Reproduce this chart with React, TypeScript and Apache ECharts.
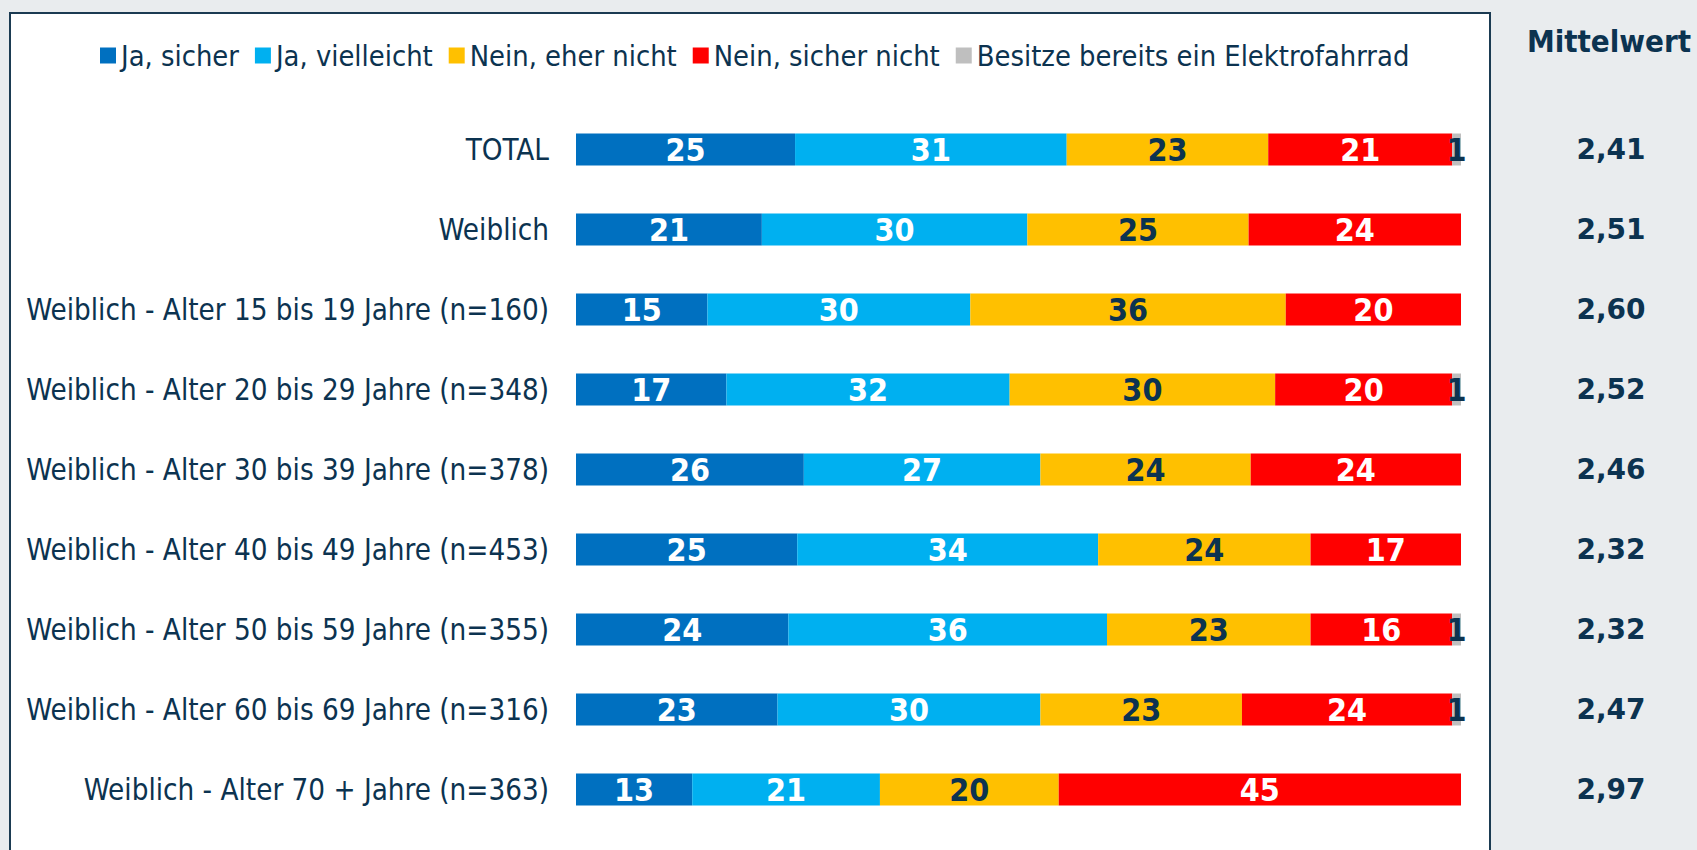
import React, { useEffect, useRef } from "react";
import * as echarts from "echarts";

const categories = [
  "TOTAL",
  "Weiblich",
  "Weiblich - Alter 15 bis 19 Jahre (n=160)",
  "Weiblich - Alter 20 bis 29 Jahre (n=348)",
  "Weiblich - Alter 30 bis 39 Jahre (n=378)",
  "Weiblich - Alter 40 bis 49 Jahre (n=453)",
  "Weiblich - Alter 50 bis 59 Jahre (n=355)",
  "Weiblich - Alter 60 bis 69 Jahre (n=316)",
  "Weiblich - Alter 70 + Jahre (n=363)",
];

const seriesNames = [
  "Ja, sicher",
  "Ja, vielleicht",
  "Nein, eher nicht",
  "Nein, sicher nicht",
  "Besitze bereits ein Elektrofahrrad",
];

const jaSicher = [25, 21, 15, 17, 26, 25, 24, 23, 13];
const jaVielleicht = [31, 30, 30, 32, 27, 34, 36, 30, 21];
const neinEherNicht = [23, 25, 36, 30, 24, 24, 23, 23, 20];
const neinSicherNicht = [21, 24, 20, 20, 24, 17, 16, 24, 45];
const besitzeBereits = [1, 0, 0, 1, 0, 0, 1, 1, 0];

const mittelwert = ["2,41", "2,51", "2,60", "2,52", "2,46", "2,32", "2,32", "2,47", "2,97"];

const colors = ["#0070C0", "#00B0F0", "#FFC000", "#FF0000", "#BFBFBF"];
const labelColors = ["#FFFFFF", "#FFFFFF", "#0C3350", "#FFFFFF", "#0C3350"];

const NAVY = "#0C3350";
const FONT = "'DejaVu Sans Condensed', 'Liberation Sans', sans-serif";

export default function App() {
  const ref = useRef<HTMLDivElement>(null);

  useEffect(() => {
    document.body.style.margin = "0";
    const chart = echarts.init(ref.current!, null, { renderer: "svg" });
    const raw = [jaSicher, jaVielleicht, neinEherNicht, neinSicherNicht, besitzeBereits];
    const sums = categories.map((_, i) => raw.reduce((s, arr) => s + arr[i], 0));

    const series = raw.map((arr, si) => ({
      name: seriesNames[si],
      type: "bar",
      stack: "total",
      barWidth: 32,
      itemStyle: { color: colors[si] },
      data: arr.map((v, i) => ({
        value: v === 0 ? null : (v / sums[i]) * 100,
        raw: v,
      })),
      label: {
        show: true,
        position: "inside",
        color: labelColors[si],
        fontFamily: FONT,
        fontWeight: "bold",
        fontSize: 32,
        formatter: (p: any) => String(p.data.raw),
      },
      emphasis: { disabled: true },
    }));

    chart.setOption({
      animation: false,
      backgroundColor: "#E9ECEE",
      textStyle: { fontFamily: FONT },
      graphic: [
        {
          type: "rect",
          z: -1,
          shape: { x: 10, y: 13, width: 1480, height: 860 },
          style: { fill: "#FFFFFF", stroke: "#1B3B52", lineWidth: 2 },
        },
        {
          type: "text",
          x: 1609,
          y: 41,
          style: {
            text: "Mittelwert",
            fontFamily: FONT,
            fontWeight: "bold",
            fontSize: 31,
            fill: NAVY,
            align: "center",
            verticalAlign: "middle",
          },
        },
      ],
      legend: {
        left: 95,
        top: 36,
        itemWidth: 16,
        itemHeight: 16,
        itemGap: 16,
        icon: "rect",
        selectedMode: false,
        data: seriesNames,
        textStyle: { color: NAVY, fontSize: 28.8, fontFamily: FONT },
      },
      grid: { left: 576, right: 236, top: 109.5, bottom: 20.5 },
      xAxis: {
        type: "value",
        min: 0,
        max: 100,
        show: false,
      },
      yAxis: [
        {
          type: "category",
          data: categories,
          inverse: true,
          axisLine: { show: false },
          axisTick: { show: false },
          axisLabel: {
            color: NAVY,
            fontSize: 29.3,
            fontFamily: FONT,
            margin: 27,
          },
        },
        {
          type: "category",
          data: categories,
          inverse: true,
          position: "right",
          axisLine: { show: false },
          axisTick: { show: false },
          axisLabel: {
            color: NAVY,
            fontSize: 28,
            fontWeight: "bold",
            fontFamily: "'DejaVu Sans', sans-serif",
            margin: 150,
            align: "center",
            formatter: (_v: string, i: number) => mittelwert[i],
          },
        },
      ],
      series,
    });
    return () => chart.dispose();
  }, []);

  return (
    <div
      ref={ref}
      style={{ position: "absolute", left: 0, top: 0, width: 1697, height: 850 }}
    />
  );
}
